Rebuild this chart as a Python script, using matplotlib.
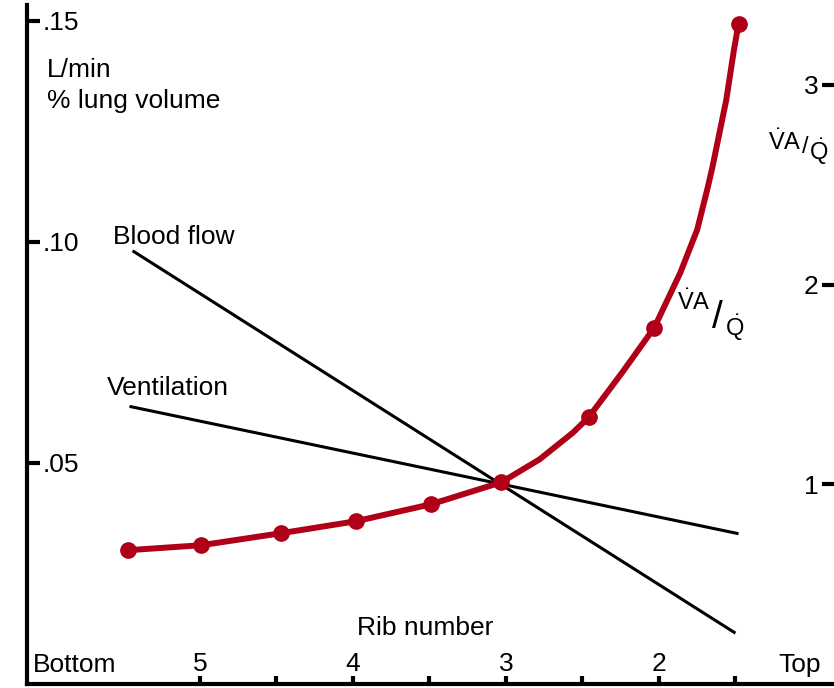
import numpy as np
import matplotlib
matplotlib.use("Agg")
import matplotlib.pyplot as plt

plt.rcParams["font.family"] = ["Liberation Sans", "DejaVu Sans"]
plt.rcParams["mathtext.fontset"] = "custom"
plt.rcParams["mathtext.rm"] = "Liberation Sans"
plt.rcParams["mathtext.it"] = "Liberation Sans"

# rib number (5.5 = bottom of lung ... 1.5 = top)
ribs_major = [5, 4, 3, 2]
ribs_minor = [4.5, 3.5, 2.5, 1.5]

# blood flow and ventilation (L/min, % lung volume) - straight lines
blood_rib = [5.44, 1.50]
blood_flow = [0.098, 0.0115]
vent_rib = [5.46, 1.48]
ventilation = [0.0628, 0.034]

# VA/Q markers
vq_rib = [5.47, 4.99, 4.47, 3.98, 3.49, 3.03, 2.46, 2.03, 1.48]
vq = [0.67, 0.695, 0.755, 0.815, 0.90, 1.01, 1.335, 1.785, 3.305]

# VA/Q curve (markers plus points along the line)
curve_rib = [5.47, 4.99, 4.47, 3.98, 3.49, 3.03, 2.78, 2.56, 2.46, 2.24, 2.03,
             1.86, 1.75, 1.68, 1.65, 1.56, 1.51, 1.48]
curve_vq = [0.67, 0.695, 0.755, 0.815, 0.90, 1.01, 1.125, 1.26, 1.335, 1.56, 1.785,
            2.06, 2.275, 2.49, 2.59, 2.925, 3.175, 3.305]

left_ticks = [0.05, 0.10, 0.15]
left_labels = [".05", ".10", ".15"]
right_ticks = [1, 2, 3]

red = "#b00018"
fs = 19
va_txt = r"$\dot{\mathrm{V}}\mathrm{A}$"
q_txt = r"$\dot{\mathrm{Q}}$"

fig = plt.figure(figsize=(8.34, 6.88), dpi=100)
ax = fig.add_axes([27 / 834, 4 / 688, 807 / 834, 679 / 688])
ax2 = ax.twinx()

ax.set_xlim(6.13, 0.856)
ax.set_ylim(0, 0.1536)
ax2.set_ylim(0, 3.4)

ax.plot(blood_rib, blood_flow, color="black", linewidth=2.2, solid_capstyle="butt")
ax.plot(vent_rib, ventilation, color="black", linewidth=2.2, solid_capstyle="butt")
ax2.plot(curve_rib, curve_vq, color=red, linewidth=4.3, solid_joinstyle="round")
ax2.plot(vq_rib, vq, "o", color=red, markersize=11)

for s in ["top", "right"]:
    ax.spines[s].set_visible(False)
for s in ["top", "right", "left", "bottom"]:
    ax2.spines[s].set_visible(False)
ax.spines["left"].set_linewidth(3)
ax.spines["bottom"].set_linewidth(3)

# left axis
ax.set_yticks(left_ticks)
ax.set_yticklabels(left_labels)
ax.tick_params(axis="y", which="major", left=True, direction="in", length=9,
               width=3, pad=-11, labelsize=fs, color="black")
for lab in ax.get_yticklabels():
    lab.set_ha("left")

# bottom axis
ax.set_xticks(ribs_major)
ax.set_xticklabels([str(r) for r in ribs_major])
ax.set_xticks(ribs_minor, minor=True)
ax.tick_params(axis="x", which="both", direction="in", length=6, width=3, pad=-23,
               labelsize=fs)

# right axis
ax2.set_yticks(right_ticks)
ax2.set_yticklabels([str(t) for t in right_ticks])
ax2.tick_params(axis="y", direction="in", length=9, width=3, pad=-11, labelsize=fs)
for lab in ax2.get_yticklabels():
    lab.set_ha("right")

t = ax.transAxes
ax.text(0.0248, 0.904, "L/min", transform=t, fontsize=fs, va="center", ha="left")
ax.text(0.0248, 0.859, "% lung volume", transform=t, fontsize=fs, va="center", ha="left")
ax.text(0.1066, 0.658, "Blood flow", transform=t, fontsize=fs, va="center", ha="left")
ax.text(0.0991, 0.436, "Ventilation", transform=t, fontsize=fs, va="center", ha="left")
ax.text(0.493, 0.0825, "Rib number", transform=t, fontsize=fs, va="center", ha="center")
ax.text(0.0595, 0.028, "Bottom", transform=t, fontsize=fs, va="center", ha="center")
ax.text(0.958, 0.028, "Top", transform=t, fontsize=fs, va="center", ha="center")

# right-hand axis label
ax.text(0.939, 0.798, va_txt, transform=t, fontsize=17, va="center", ha="center")
ax.text(0.965, 0.791, "/", transform=t, fontsize=17, va="center", ha="center")
ax.text(0.981, 0.784, q_txt, transform=t, fontsize=17, va="center", ha="center")

# curve label
ax.text(0.826, 0.5626, va_txt, transform=t, fontsize=17, va="center", ha="center")
ax.text(0.856, 0.539, "/", transform=t, fontsize=28, va="center", ha="center")
ax.text(0.877, 0.524, q_txt, transform=t, fontsize=17, va="center", ha="center")

fig.savefig("out.png", dpi=100)
